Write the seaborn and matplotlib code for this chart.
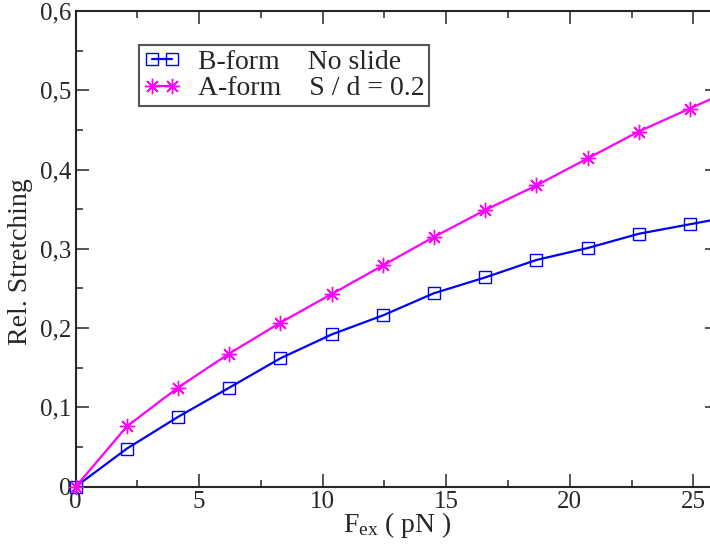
import numpy as np
import pandas as pd
import seaborn as sns
import matplotlib.pyplot as plt
from matplotlib.ticker import MultipleLocator, FuncFormatter

# Data (last point lies just beyond the right edge)
force_pn = [0.0, 2.07, 4.14, 6.22, 8.29, 10.36, 12.43, 14.5, 16.58, 18.65, 20.72, 22.79, 24.86, 26.93]
b_form = [0.0, 0.048, 0.088, 0.125, 0.162, 0.192, 0.216, 0.244, 0.264, 0.286, 0.301, 0.319, 0.331, 0.343]
a_form = [0.0, 0.076, 0.125, 0.168, 0.207, 0.243, 0.279, 0.315, 0.349, 0.380, 0.414, 0.448, 0.477, 0.506]

series_labels = ["B-form    No slide", "A-form    S / d = 0.2"]
series_colors = ["#0000ff", "#ff00ff"]
series_markers = ["s", (8, 2, 0)]
series_sizes = [8, 11]

sns.set_style("ticks")
plt.rcParams['font.family'] = ['Liberation Serif', 'DejaVu Serif']
plt.rcParams['mathtext.fontset'] = 'custom'
plt.rcParams['mathtext.rm'] = 'Liberation Serif'
plt.rcParams['mathtext.it'] = 'Liberation Serif:italic'

df = pd.DataFrame({
    "force": force_pn * 2,
    "stretch": b_form + a_form,
    "series": [series_labels[0]] * len(force_pn) + [series_labels[1]] * len(force_pn),
})

fig = plt.figure(figsize=(7.1, 5.52), dpi=100)
ax = fig.add_axes([75.7 / 710, 1 - 486.7 / 552, (718 - 75.7) / 710, (486.7 - 11) / 552])

for lab, col, mk, ms in zip(series_labels, series_colors, series_markers, series_sizes):
    sub = df[df["series"] == lab]
    sns.lineplot(data=sub, x="force", y="stretch", ax=ax, color=col, label=lab,
                 marker=mk, markersize=ms, markerfacecolor='none', markeredgecolor=col,
                 markeredgewidth=1.0, linewidth=1.6, sort=False, clip_on=False, zorder=3)

ax.set_xlim(0, 26)
ax.set_ylim(0, 0.6)
ax.xaxis.set_major_locator(MultipleLocator(5))
ax.xaxis.set_minor_locator(MultipleLocator(2.5))
ax.yaxis.set_major_locator(MultipleLocator(0.1))
ax.yaxis.set_minor_locator(MultipleLocator(0.05))

def comma_fmt(v, pos):
    if abs(v) < 1e-9:
        return "0"
    return f"{v:.1f}".replace(".", ",")

ax.yaxis.set_major_formatter(FuncFormatter(comma_fmt))
ax.xaxis.set_major_formatter(FuncFormatter(lambda v, p: f"{v:g}"))

ax.tick_params(which='both', direction='in', top=True, right=True, labelsize=18, width=1.1, pad=3)
ax.tick_params(which='major', length=9.5)
ax.tick_params(which='minor', length=4.7)
for sp in ax.spines.values():
    sp.set_linewidth(1.5)

ax.set_xlabel(r"F$_{\rm ex}$ ( pN )", fontsize=20, labelpad=-2)
ax.set_ylabel("Rel. Stretching", fontsize=20)
ax.yaxis.set_label_coords(-0.066, 0.474)

leg = ax.legend(loc='upper left', bbox_to_anchor=(0.0986, 0.9285), borderaxespad=0,
                fontsize=20, frameon=True, fancybox=False, framealpha=1,
                handlelength=1.33, handletextpad=0.65, borderpad=0.15, labelspacing=0.05,
                numpoints=2)
leg.get_frame().set_edgecolor('#555555')
leg.get_frame().set_linewidth(1.5)
leg.set_zorder(5)

fig.savefig("out.png", dpi=100)
